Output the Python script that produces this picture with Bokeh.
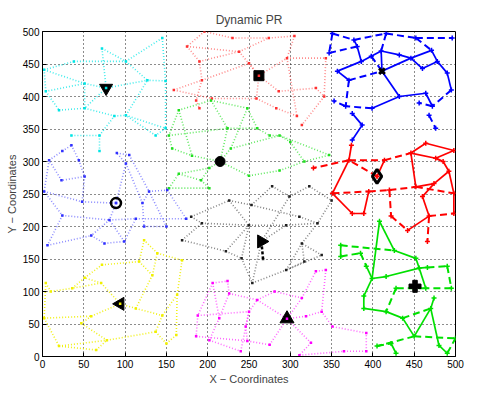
import numpy as np
from bokeh.plotting import figure
from bokeh.models import ColumnDataSource, FixedTicker, Range1d
from bokeh.embed import file_html
from bokeh.resources import INLINE

# ---------------- data ----------------
x_ticks = [0, 50, 100, 150, 200, 250, 300, 350, 400, 450, 500]
y_ticks = [0, 50, 100, 150, 200, 250, 300, 350, 400, 450, 500]

# cyan dotted cluster (head = last node)
cy_x = [2, 38, 72, 101, 145, 149, 127, 51, 4, 20, 51, 87, 101, 149, 137, 35, 69, 69, 77]
cy_y = [441, 454, 474, 454, 490, 424, 425, 420, 408, 379, 382, 370, 371, 351, 340, 340, 340, 316, 413]
cy_e = [(0, 1), (1, 3), (0, 7), (2, 3), (3, 4), (3, 6), (4, 5), (5, 6), (5, 13), (7, 8), (8, 9),
        (8, 0), (9, 10), (10, 7), (10, 11), (11, 12), (12, 6), (12, 13), (13, 14), (14, 12),
        (15, 16), (16, 11), (16, 17), (18, 2), (18, 7), (18, 6), (18, 10)]

# red dotted cluster
rd_x = [196, 175, 190, 230, 274, 305, 296, 343, 250, 238, 159, 193, 186, 190, 205, 259, 283, 308, 314, 341, 331, 286, 262]
rd_y = [500, 477, 454, 490, 490, 493, 459, 459, 451, 469, 410, 425, 394, 382, 397, 397, 382, 370, 356, 400, 413, 408, 432]
rd_e = [(0, 1), (1, 2), (0, 3), (3, 4), (4, 5), (5, 6), (6, 7), (1, 9), (9, 4), (2, 11), (11, 12),
        (12, 13), (10, 11), (10, 14), (11, 8), (8, 22), (22, 6), (22, 21), (21, 20), (20, 19),
        (19, 18), (14, 15), (15, 16), (16, 17), (6, 17), (7, 19), (9, 22), (15, 22), (2, 9)]

# green dotted cluster
gd_x = [204, 165, 153, 224, 248, 260, 275, 287, 181, 228, 157, 202, 165, 192, 202, 153, 250, 287, 317, 347, 300, 215]
gd_y = [394, 379, 340, 351, 382, 351, 340, 340, 309, 320, 320, 290, 281, 271, 259, 259, 278, 286, 300, 310, 330, 300]
gd_e = [(0, 1), (0, 3), (0, 4), (1, 2), (1, 8), (2, 10), (3, 21), (3, 5), (4, 5), (5, 6), (6, 7),
        (10, 8), (8, 21), (9, 21), (9, 4), (21, 11), (21, 16), (11, 12), (12, 13), (13, 14),
        (14, 15), (15, 12), (16, 17), (17, 18), (18, 19), (19, 7), (7, 20), (20, 18), (9, 7),
        (11, 13), (2, 3)]

# blue dotted cluster
bd_x = [8, 24, 35, 44, 51, 23, 2, 48, 90, 105, 101, 129, 151, 121, 24, 81, 113, 174, 6, 59, 75, 99, 150, 123, 89]
bd_y = [302, 316, 325, 302, 277, 271, 254, 238, 313, 310, 297, 254, 256, 236, 217, 210, 212, 212, 171, 186, 174, 177, 200, 200, 236]
bd_e = [(0, 1), (1, 2), (2, 3), (3, 4), (4, 5), (5, 0), (0, 6), (6, 7), (6, 14), (4, 7), (7, 24),
        (24, 10), (10, 8), (8, 9), (9, 11), (10, 13), (11, 12), (11, 13), (13, 23), (11, 22),
        (14, 15), (15, 16), (16, 17), (14, 18), (18, 19), (19, 20), (20, 21), (21, 15), (21, 16),
        (22, 23), (15, 19), (24, 15), (12, 17)]

# black dotted cluster
kd_x = [180, 226, 253, 278, 299, 323, 250, 193, 295, 311, 169, 222, 333, 314, 241, 254, 295, 338, 317, 265, 350, 267]
kd_y = [215, 240, 233, 262, 246, 262, 202, 205, 202, 215, 179, 162, 205, 174, 151, 113, 133, 156, 146, 177, 240, 150]
kd_e = [(0, 7), (7, 6), (6, 8), (8, 12), (1, 2), (2, 3), (3, 4), (4, 5), (1, 6), (10, 11), (11, 14),
        (14, 6), (14, 15), (15, 16), (16, 17), (17, 13), (13, 12), (18, 13), (11, 6), (19, 8),
        (19, 4), (15, 19), (2, 9), (9, 12), (5, 20), (20, 12), (13, 16), (10, 7), (0, 1), (18, 16)]
kd_bold = [(19, 21)]

# yellow dotted cluster
yd_x = [123, 117, 139, 169, 163, 133, 113, 72, 51, 36, 10, 4, 71, 59, 2, 20, 65, 47, 78, 137, 150, 162, 145, 94]
yd_y = [179, 146, 159, 148, 95, 125, 74, 141, 121, 105, 100, 113, 113, 62, 59, 16, 10, 51, 25, 38, 20, 33, 63, 81]
yd_e = [(11, 10), (10, 9), (9, 8), (8, 7), (12, 9), (12, 23), (11, 14), (14, 13), (13, 23),
        (14, 15), (15, 16), (15, 18), (17, 18), (16, 18), (18, 19), (19, 20), (20, 21), (21, 4),
        (4, 22), (22, 19), (6, 23), (6, 5), (5, 2), (2, 0), (0, 1), (1, 5), (2, 3), (3, 4),
        (6, 22), (7, 1), (13, 17), (12, 8)]

# magenta dotted cluster
md_x = [206, 224, 188, 214, 226, 250, 260, 186, 202, 248, 275, 331, 343, 314, 319, 338, 311, 392, 392, 351, 240, 246, 325, 365, 281, 296]
md_y = [113, 116, 63, 59, 97, 69, 87, 31, 25, 24, 18, 131, 133, 90, 62, 69, 2, 36, 8, 46, 8, 46, 21, 8, 100, 58]
md_e = [(0, 1), (0, 2), (2, 7), (2, 5), (3, 4), (4, 1), (4, 6), (6, 24), (5, 6), (5, 21), (21, 9),
        (9, 10), (10, 25), (7, 9), (8, 20), (20, 5), (25, 13), (13, 11), (11, 12), (12, 15),
        (15, 14), (14, 25), (25, 22), (22, 16), (16, 23), (23, 18), (18, 17), (17, 19), (19, 15),
        (6, 25), (3, 8), (24, 13), (0, 3)]

# blue dashed cluster
bs_x = [351, 347, 377, 381, 416, 452, 496, 398, 386, 410, 432, 446, 471, 478, 411, 357, 371, 460, 490, 432, 464, 495, 472, 367, 399, 353, 375, 387, 375, 456, 468, 476]
bs_y = [497, 467, 487, 477, 497, 490, 490, 462, 454, 470, 464, 459, 471, 454, 439, 439, 425, 443, 436, 400, 405, 410, 385, 385, 382, 393, 374, 356, 333, 390, 371, 351]
bs_solid = [(2, 3), (3, 8), (8, 7), (8, 15), (15, 16), (14, 11), (14, 9), (9, 10), (10, 11), (11, 12),
            (12, 13), (11, 17), (17, 13), (13, 18), (19, 20), (19, 24), (20, 22), (26, 27), (27, 28),
            (14, 19), (18, 21), (7, 9)]
bs_dash = [(0, 1), (0, 2), (1, 3), (2, 4), (4, 5), (5, 6), (7, 14), (16, 23), (23, 25), (24, 23),
           (21, 22), (22, 29), (30, 31), (5, 12), (4, 9), (16, 14)]

# red dashed cluster
rs_x = [374, 371, 414, 446, 464, 498, 476, 328, 351, 405, 375, 389, 395, 420, 452, 460, 474, 492, 498, 422, 442, 468, 498, 466, 485]
rs_y = [325, 302, 302, 313, 328, 317, 305, 290, 251, 277, 220, 220, 254, 256, 261, 246, 266, 285, 251, 216, 194, 216, 220, 177, 300]
rs_solid = [(0, 1), (1, 8), (8, 10), (10, 11), (11, 12), (3, 4), (4, 5), (5, 6), (6, 3), (3, 14),
            (14, 16), (16, 17), (17, 24), (15, 16), (15, 21), (20, 21), (9, 2), (18, 22), (17, 18)]
rs_dash = [(1, 2), (2, 3), (1, 7), (8, 12), (12, 13), (13, 14), (14, 18), (13, 19), (19, 20),
           (21, 22), (21, 23), (9, 1), (6, 24)]

# green dashed cluster
gs_x = [408, 361, 361, 385, 426, 452, 456, 490, 495, 466, 464, 392, 399, 416, 428, 389, 389, 416, 436, 470, 450, 405, 428, 422, 480, 490, 500, 474, 451]
gs_y = [208, 171, 154, 159, 163, 151, 136, 139, 105, 137, 105, 139, 120, 123, 105, 93, 74, 69, 59, 74, 31, 16, 5, 20, 17, 5, 28, 90, 108]
gs_solid = [(0, 4), (0, 12), (1, 2), (4, 5), (5, 6), (6, 13), (6, 9), (6, 10), (11, 12), (12, 13),
            (12, 15), (15, 16), (16, 17), (17, 18), (19, 20), (18, 20), (19, 24), (24, 25), (27, 19),
            (22, 23)]
gs_dash = [(1, 4), (2, 3), (9, 7), (7, 8), (8, 10), (10, 14), (14, 17), (18, 19), (20, 26),
           (20, 21), (21, 23), (3, 11), (25, 26)]


def segs(nx, ny, edges):
    return ([[nx[a], nx[b]] for a, b in edges], [[ny[a], ny[b]] for a, b in edges])


FONT = "Liberation Sans"

p = figure(frame_width=413, frame_height=325, x_range=Range1d(0, 500), y_range=Range1d(0, 500),
           output_backend="svg", toolbar_location=None, title="Dynamic PR",
           min_border_left=42, min_border_right=12, min_border_top=31, min_border_bottom=30)
p.background_fill_color = "white"
p.border_fill_color = "white"
p.outline_line_color = "black"
p.outline_line_alpha = 1
p.title.align = "center"
p.title.text_font = FONT
p.title.text_font_size = "12px"
p.title.text_font_style = "normal"

for ax, ticks in ((p.xaxis[0], x_ticks), (p.yaxis[0], y_ticks)):
    ax.ticker = FixedTicker(ticks=ticks)
    ax.major_tick_in = 4
    ax.major_tick_out = 0
    ax.minor_tick_line_color = None
    ax.axis_line_color = "black"
    ax.major_tick_line_color = "black"
    ax.major_label_text_font = FONT
    ax.major_label_text_font_size = "10px"
    ax.major_label_text_color = "black"
    ax.major_label_standoff = 3
    ax.axis_label_text_font = FONT
    ax.axis_label_text_font_size = "11px"
    ax.axis_label_text_font_style = "normal"
    ax.axis_label_standoff = 2
p.xaxis.axis_label = "X \u2212 Coordinates"
p.yaxis.axis_label = "Y \u2212 Coordinates"
p.grid.grid_line_color = "black"
p.grid.grid_line_dash = "1 3"
p.grid.grid_line_width = 1
p.grid.grid_line_alpha = 0.9

dotted = [
    (cy_x, cy_y, cy_e, "#00e5e5", 0.75),
    (rd_x, rd_y, rd_e, "#ff3030", 0.55),
    (gd_x, gd_y, gd_e, "#20e020", 0.7),
    (bd_x, bd_y, bd_e, "#3030ff", 0.55),
    (kd_x, kd_y, kd_e, "#202020", 0.55),
    (yd_x, yd_y, yd_e, "#f0f000", 0.9),
    (md_x, md_y, md_e, "#ff00ff", 0.6),
]
for nx, ny, ed, col, al in dotted:
    xs, ys = segs(nx, ny, ed)
    p.multi_line(xs=xs, ys=ys, line_color=col, line_alpha=al, line_width=1.6, line_dash="1 2")
    p.scatter(x=nx, y=ny, marker="square", size=2.5, fill_color=col, line_color=None)

xs, ys = segs(kd_x, kd_y, kd_bold)
p.multi_line(xs=xs, ys=ys, line_color="black", line_width=2.5, line_dash="3 2")

dashed = [
    (bs_x, bs_y, bs_solid, bs_dash, "#0000ff"),
    (rs_x, rs_y, rs_solid, rs_dash, "#ff0000"),
    (gs_x, gs_y, gs_solid, gs_dash, "#00e000"),
]
for nx, ny, es, edd, col in dashed:
    xs, ys = segs(nx, ny, es)
    p.multi_line(xs=xs, ys=ys, line_color=col, line_width=1.7)
    xs, ys = segs(nx, ny, edd)
    p.multi_line(xs=xs, ys=ys, line_color=col, line_width=2, line_dash="7 4")
    p.scatter(x=nx, y=ny, marker="cross", size=5, line_color=col, line_width=1.5)

# cluster heads
p.scatter(x=[cy_x[-1]], y=[cy_y[-1]], marker="inverted_triangle", size=13, fill_color="black", line_color="black")
p.scatter(x=[rd_x[-1]], y=[rd_y[-1]], marker="square", size=10, fill_color="black", line_color="black")
p.scatter(x=[gd_x[-1]], y=[gd_y[-1]], marker="circle", size=10, fill_color="black", line_color="black")
p.scatter(x=[bd_x[-1]], y=[bd_y[-1]], marker="circle", size=10, fill_color=None, line_color="black", line_width=2.5)
p.scatter(x=[kd_x[19]], y=[kd_y[19]], marker="triangle", angle=-np.pi / 2, size=13, fill_color="black", line_color="black")
p.scatter(x=[yd_x[-1]], y=[yd_y[-1]], marker="triangle", angle=np.pi / 2, size=13, fill_color="black", line_color="black")
p.scatter(x=[md_x[-1]], y=[md_y[-1]], marker="triangle", size=14, fill_color="black", line_color="black")
p.scatter(x=[bs_x[14]], y=[bs_y[14]], marker="x", size=8, line_color="black", line_width=3)
p.scatter(x=[rs_x[9]], y=[rs_y[9]], marker="diamond", size=14, fill_color=None, line_color="black", line_width=3)
p.scatter(x=[gs_x[-1]], y=[gs_y[-1]], marker="plus", size=12, fill_color="black", line_color="black")

# small coloured centres
p.scatter(x=[cy_x[-1], rd_x[-1], bd_x[-1], yd_x[-1], md_x[-1], rs_x[9]],
          y=[cy_y[-1], rd_y[-1], bd_y[-1], yd_y[-1], md_y[-1], rs_y[9]],
          marker="square", size=2.5,
          fill_color=["#00e5e5", "#ff3030", "#3030ff", "#f0f000", "#ff00ff", "#ff0000"], line_color=None)

open("out.html", "w").write(file_html(p, INLINE))
